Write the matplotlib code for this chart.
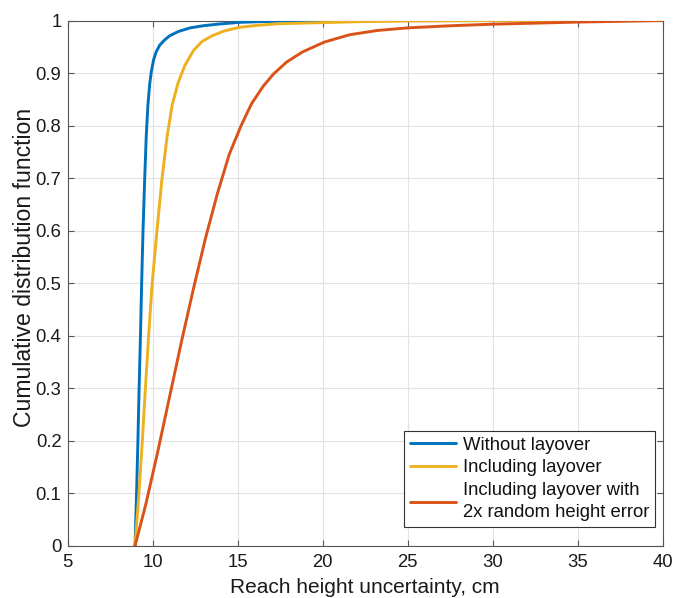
import matplotlib
matplotlib.use("Agg")
import matplotlib.pyplot as plt

plt.rcParams['font.family'] = ['Liberation Sans', 'DejaVu Sans']

# Data (x = uncertainty in cm, y = CDF)
blue_x = [8.96, 9.05, 9.13, 9.2, 9.28, 9.35, 9.43, 9.53, 9.62, 9.72, 9.82, 9.92, 10.05,
          10.2, 10.41, 10.7, 11.0, 11.5, 12.2, 12.97, 13.8, 15.1, 16.5, 18.0, 20.0, 25.0, 40.0]
blue_y = [0.0, 0.1, 0.2, 0.3, 0.4, 0.5, 0.6, 0.7, 0.78, 0.84, 0.878, 0.903, 0.925,
          0.94, 0.953, 0.963, 0.971, 0.979, 0.986, 0.99, 0.993, 0.9965, 0.998, 0.999,
          0.9995, 1.0, 1.0]

yellow_x = [8.96, 9.19, 9.39, 9.57, 9.76, 9.97, 10.25, 10.55, 10.85, 11.15, 11.5, 11.9,
            12.4, 12.9, 13.5, 14.2, 15.1, 16.2, 17.5, 20.0, 22.5, 25.0, 30.0, 40.0]
yellow_y = [0.0, 0.1, 0.2, 0.3, 0.4, 0.5, 0.6, 0.7, 0.78, 0.84, 0.882, 0.915,
            0.943, 0.96, 0.971, 0.98, 0.987, 0.991, 0.994, 0.996, 0.998, 0.999, 1.0, 1.0]

red_x = [8.96, 9.6, 10.3, 11.0, 11.7, 12.4, 13.1, 13.8, 14.5, 15.2, 15.82, 16.5, 17.1,
         17.88, 18.8, 20.1, 21.6, 23.2, 25.0, 27.5, 30.0, 35.0, 40.0]
red_y = [0.0, 0.08, 0.18, 0.285, 0.39, 0.49, 0.585, 0.67, 0.745, 0.8, 0.842, 0.875, 0.898,
         0.921, 0.94, 0.959, 0.973, 0.981, 0.986, 0.99, 0.993, 0.997, 1.0]

labels = ["Without layover", "Including layover",
          "Including layover with\n2x random height error"]
colors = ["#0072BD", "#EDB120", "#D95319"]

x_ticks = [5, 10, 15, 20, 25, 30, 35, 40]
y_ticks = [0, 0.1, 0.2, 0.3, 0.4, 0.5, 0.6, 0.7, 0.8, 0.9, 1]
y_tick_labels = ["0", "0.1", "0.2", "0.3", "0.4", "0.5", "0.6", "0.7", "0.8", "0.9", "1"]

fig = plt.figure(figsize=(6.73, 5.98), dpi=100)
ax = fig.add_axes([0.1006, 0.087, 0.8841, 0.8787])

for xs, ys, lab, c in zip([blue_x, yellow_x, red_x], [blue_y, yellow_y, red_y], labels, colors):
    ax.plot(xs, ys, color=c, lw=2.1, label=lab, zorder=3,
            solid_joinstyle="round", solid_capstyle="round")

ax.set_xlim(5, 40)
ax.set_ylim(0, 1)
ax.set_xticks(x_ticks)
ax.set_xticklabels([str(t) for t in x_ticks])
ax.set_yticks(y_ticks)
ax.set_yticklabels(y_tick_labels)
ax.grid(True, color="#e3e3e3", lw=0.8)
ax.set_axisbelow(True)
for s in ax.spines.values():
    s.set_color("#555555")
    s.set_linewidth(0.8)
ax.tick_params(direction="in", top=True, right=True, length=4, width=0.8,
               color="#555555", labelcolor="#1a1a1a", labelsize=13.3)
ax.tick_params(axis="y", pad=4.5)
ax.tick_params(axis="x", pad=6)

ax.set_xlabel("Reach height uncertainty, cm", fontsize=15, color="#1a1a1a", labelpad=5)
ax.set_ylabel("Cumulative distribution function", fontsize=16.6, color="#1a1a1a")
ax.yaxis.set_label_coords(-0.053, 0.53)

leg = ax.legend(loc="lower right", bbox_to_anchor=(0.987, 0.036), borderaxespad=0,
                fontsize=13.3, frameon=True, fancybox=False,
                edgecolor="#333333", framealpha=1, handlelength=2.5,
                handletextpad=0.35, borderpad=0.32, labelspacing=0.3)
leg.get_frame().set_linewidth(0.8)
for t in leg.get_texts():
    t.set_color("#111111")
    t.set_linespacing(1.4)

fig.savefig("out.png", dpi=100)
